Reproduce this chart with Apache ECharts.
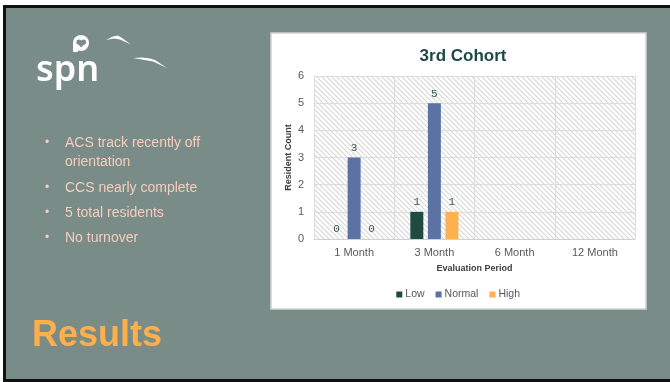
<!DOCTYPE html>
<html>
<head>
<meta charset="utf-8">
<script src="https://cdn.jsdelivr.net/npm/echarts@6/dist/echarts.min.js"></script>
<style>
html,body{margin:0;padding:0;background:#ffffff;}
#main{width:670px;height:382px;}
</style>
</head>
<body>
<div id="main"></div>
<script>
// ---- data ----
var categories = ['1 Month', '3 Month', '6 Month', '12 Month'];
var lowValues = [0, 1, null, null];
var normalValues = [3, 5, null, null];
var highValues = [0, 1, null, null];
var seriesNames = ['Low', 'Normal', 'High'];
var yTicks = [0, 1, 2, 3, 4, 5, 6];
var chartTitle = '3rd Cohort';
var bullets = ['ACS track recently off', 'orientation', 'CCS nearly complete', '5 total residents', 'No turnover'];
var bulletMarks = [true, false, true, true, true];

// ---- hatch pattern ----
function hatch() {
  var s = 5;
  var c = document.createElement('canvas');
  c.width = s; c.height = s;
  var ctx = c.getContext('2d');
  ctx.fillStyle = '#ffffff';
  ctx.fillRect(0, 0, s, s);
  ctx.strokeStyle = '#d6d6d6';
  ctx.lineWidth = 1.1;
  ctx.beginPath();
  ctx.moveTo(-1, -1); ctx.lineTo(s + 1, s + 1);
  ctx.moveTo(-1, s - 1); ctx.lineTo(1, s + 1);
  ctx.moveTo(s - 1, -1); ctx.lineTo(s + 1, 1);
  ctx.stroke();
  return c;
}

var chart = echarts.init(document.getElementById('main'), null, {renderer: 'canvas'});
var pink = '#F7CDBF';
var bg = '#7A8C87';

var graphics = [
  {type: 'rect', shape: {x: 3, y: 5, width: 680, height: 380}, style: {fill: '#111111'}, z: -10},
  {type: 'rect', shape: {x: 6, y: 8, width: 670, height: 371}, style: {fill: bg}, z: -9},
  // chart panel
  {type: 'rect', shape: {x: 271, y: 33, width: 375, height: 276}, style: {fill: '#ffffff', stroke: '#cfd3d2', lineWidth: 1.5}, z: -8},
  // logo text
  {type: 'text', x: 36, y: 71, style: {text: 'spn', fill: '#ffffff', font: '600 36px "Noto Sans", "Open Sans", sans-serif', textVerticalAlign: 'middle', verticalAlign: 'middle'}, z: 5},
  {type: 'circle', shape: {cx: 81, cy: 43, r: 8}, style: {fill: '#ffffff'}, z: 5},
  {type: 'rect', shape: {x: 73, y: 43, width: 5, height: 9}, style: {fill: '#ffffff'}, z: 5},
  {type: 'circle', shape: {cx: 79, cy: 42, r: 2.6}, style: {fill: bg}, z: 6},
  {type: 'circle', shape: {cx: 83.5, cy: 42, r: 2.6}, style: {fill: bg}, z: 6},
  {type: 'polygon', shape: {points: [[77.5, 43.5], [85, 43.5], [81.2, 47.5]]}, style: {fill: bg}, z: 6},
  // birds
  {type: 'polygon', shape: {points: [[106, 40], [113, 36.5], [118, 35.5], [122, 38], [131, 44.5], [120, 39.5], [114, 38.5]]}, style: {fill: '#ffffff'}, z: 5},
  {type: 'polygon', shape: {points: [[133, 58], [142, 57.5], [150, 58.5], [155, 60], [167, 68], [153, 61.5], [142, 59.5]]}, style: {fill: '#ffffff'}, z: 5},
  // Results
  {type: 'text', x: 32, y: 336, style: {text: 'Results', fill: '#FBB04D', font: 'bold 36px "Liberation Sans", Arial, sans-serif', textVerticalAlign: 'middle', verticalAlign: 'middle'}, z: 5}
];

var bulletY = [143, 162, 188, 213, 238];
bullets.forEach(function (t, i) {
  if (bulletMarks[i]) {
    graphics.push({type: 'text', x: 45, y: bulletY[i], style: {text: '•', fill: pink, font: '12px "Liberation Sans", Arial, sans-serif', textVerticalAlign: 'middle', verticalAlign: 'middle'}, z: 5});
  }
  graphics.push({type: 'text', x: 65, y: bulletY[i], style: {text: t, fill: pink, font: '14px "Liberation Sans", Arial, sans-serif', textVerticalAlign: 'middle', verticalAlign: 'middle'}, z: 5});
});

var labelStyle = {
  show: true, position: 'top', distance: 4,
  color: '#3a5a53', fontSize: 11, fontFamily: '"Liberation Mono", "DejaVu Sans Mono", monospace'
};

chart.setOption({
  animation: false,
  backgroundColor: 'transparent',
  title: {
    text: chartTitle, left: 458, top: 43, textAlign: 'center',
    textStyle: {color: '#1F4A3F', fontSize: 17, fontWeight: 'bold', fontFamily: '"Liberation Sans", Arial, sans-serif'}
  },
  legend: {
    data: seriesNames, left: 'auto', top: 284, right: 145,
    itemWidth: 6, itemHeight: 6, itemGap: 11, icon: 'rect',
    textStyle: {color: '#595959', fontSize: 10.5, fontFamily: '"Liberation Sans", Arial, sans-serif', padding: [0, 0, 0, -2]}
  },
  grid: {
    left: 314, top: 76, width: 321, height: 163,
    show: true, borderWidth: 0,
    backgroundColor: {image: hatch(), repeat: 'repeat'}
  },
  xAxis: {
    type: 'category', data: categories,
    name: 'Evaluation Period', nameLocation: 'middle', nameGap: 25,
    nameTextStyle: {color: '#404040', fontSize: 9, fontWeight: 'bold', fontFamily: '"Liberation Sans", Arial, sans-serif'},
    axisLine: {show: true, lineStyle: {color: '#d0d0d0', width: 1}},
    axisTick: {show: false},
    axisLabel: {color: '#595959', fontSize: 11, margin: 8, fontFamily: '"Liberation Sans", Arial, sans-serif'},
    splitLine: {show: true, lineStyle: {color: '#dcdcdc', width: 1}}
  },
  yAxis: {
    type: 'value', min: 0, max: 6, interval: 1,
    name: 'Resident Count', nameLocation: 'middle', nameGap: 21,
    nameTextStyle: {color: '#404040', fontSize: 9, fontWeight: 'bold', fontFamily: '"Liberation Sans", Arial, sans-serif'},
    axisLine: {show: false}, axisTick: {show: false},
    axisLabel: {color: '#595959', fontSize: 11, margin: 10, fontFamily: '"Liberation Sans", Arial, sans-serif',
      formatter: function (v) { return yTicks.indexOf(v) >= 0 ? String(v) : ''; }},
    splitLine: {show: true, lineStyle: {color: '#dcdcdc', width: 1}}
  },
  series: [
    {name: seriesNames[0], type: 'bar', data: lowValues, barWidth: 13, barGap: '35%', itemStyle: {color: '#1F4A3F'}, label: labelStyle},
    {name: seriesNames[1], type: 'bar', data: normalValues, barWidth: 13, barGap: '35%', itemStyle: {color: '#5A72A4'}, label: labelStyle},
    {name: seriesNames[2], type: 'bar', data: highValues, barWidth: 13, barGap: '35%', itemStyle: {color: '#FDB14F'}, label: labelStyle}
  ],
  graphic: graphics
});
</script>
</body>
</html>
